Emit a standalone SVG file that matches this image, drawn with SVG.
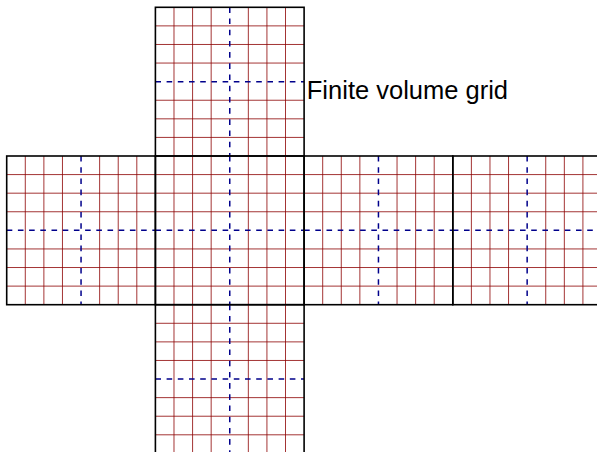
<svg xmlns="http://www.w3.org/2000/svg" xmlns:xlink="http://www.w3.org/1999/xlink" width="597" height="452" viewBox="0 0 597 452">
<style>
.grid{stroke:#8b0000;stroke-width:0.8;fill:none}
.mid{stroke:#00008b;stroke-width:1.5;stroke-dasharray:5.6 5.6;fill:none}
.border{stroke:#000;stroke-width:1.6;fill:none}
.label{font-family:"Liberation Sans",Arial,sans-serif;font-size:25.5px;fill:#000}
</style>
<defs>
<g id="face">
<path class="grid" d="M18.59 0V148.7M37.18 0V148.7M55.76 0V148.7M92.94 0V148.7M111.53 0V148.7M130.11 0V148.7M0 18.59H148.7M0 37.18H148.7M0 55.76H148.7M0 92.94H148.7M0 111.53H148.7M0 130.11H148.7"/>
<path class="mid" d="M74.35 0V148.7M0 74.35H148.7"/>
<rect class="border" x="0" y="0" width="148.7" height="148.7"/>
</g>
</defs>
<rect width="597" height="452" fill="#fff"/>
<g id="face-top" transform="translate(155.4,7.3)"><use xlink:href="#face"/></g>
<g id="face-left" transform="translate(6.7,156)"><use xlink:href="#face"/></g>
<g id="face-front" transform="translate(155.4,156)"><use xlink:href="#face"/></g>
<g id="face-right" transform="translate(304.1,156)"><use xlink:href="#face"/></g>
<g id="face-back" transform="translate(452.8,156)"><use xlink:href="#face"/></g>
<g id="face-bottom" transform="translate(155.4,304.7)"><use xlink:href="#face"/></g>
<g id="connectors"></g>
<text class="label" x="306.8" y="99.3">Finite volume grid</text>
</svg>
